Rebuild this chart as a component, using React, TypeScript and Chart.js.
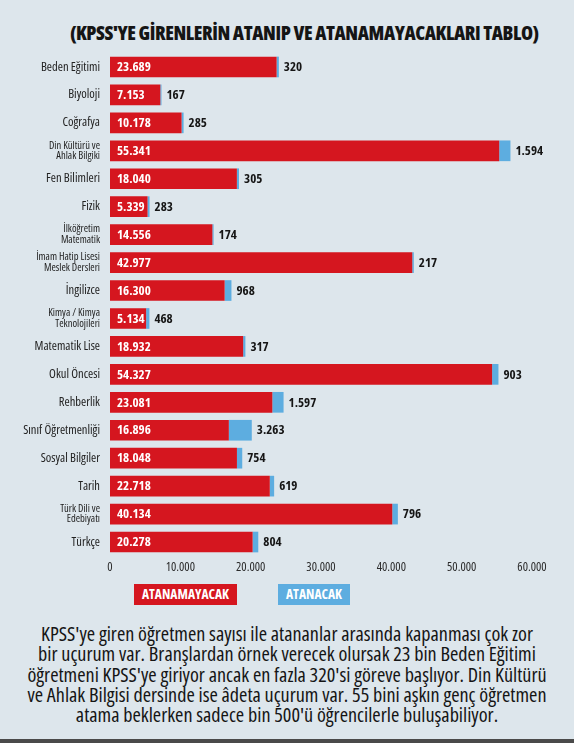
import React, { useEffect, useRef } from "react";
import { Chart, registerables } from "chart.js";

Chart.register(...registerables);

const TITLE = "(KPSS'YE GİRENLERİN ATANIP VE ATANAMAYACAKLARI TABLO)";

const categories: (string | string[])[] = [
  "Beden Eğitimi",
  "Biyoloji",
  "Coğrafya",
  ["Din Kültürü ve", "Ahlak Bilgiki"],
  "Fen Bilimleri",
  "Fizik",
  ["İlköğretim", "Matematik"],
  ["İmam Hatip Lisesi", "Meslek Dersleri"],
  "İngilizce",
  ["Kimya / Kimya", "Teknolojileri"],
  "Matematik Lise",
  "Okul Öncesi",
  "Rehberlik",
  "Sınıf Öğretmenliği",
  "Sosyal Bilgiler",
  "Tarih",
  ["Türk Dili ve", "Edebiyatı"],
  "Türkçe",
];

const atanamayacak = [
  23689, 7153, 10178, 55341, 18040, 5339, 14556, 42977, 16300, 5134, 18932,
  54327, 23081, 16896, 18048, 22718, 40134, 20278,
];

const atanacak = [
  320, 167, 285, 1594, 305, 283, 174, 217, 968, 468, 317, 903, 1597, 3263,
  754, 619, 796, 804,
];

const seriesNames = ["ATANAMAYACAK", "ATANACAK"];
const seriesColors = ["#d5161f", "#5dade0"];

const xTicks = [0, 10000, 20000, 30000, 40000, 50000, 60000];

const FOOTNOTE_LINES = [
  "KPSS'ye giren öğretmen sayısı ile atananlar arasında kapanması çok zor",
  "bir uçurum var. Branşlardan örnek verecek olursak 23 bin Beden Eğitimi",
  "öğretmeni KPSS'ye giriyor ancak en fazla 320'si göreve başlıyor. Din Kültürü",
  "ve Ahlak Bilgisi dersinde ise âdeta uçurum var. 55 bini aşkın genç öğretmen",
  "atama beklerken sadece bin 500'ü öğrencilerle buluşabiliyor.",
];

const FAM = '"Open Sans", sans-serif';

const fmt = (v: number) =>
  String(Math.round(v)).replace(/\B(?=(\d{3})+(?!\d))/g, ".");

const valueLabels = {
  id: "valueLabels",
  afterDatasetsDraw(chart: any) {
    const ctx = chart.ctx;
    const m0 = chart.getDatasetMeta(0);
    const m1 = chart.getDatasetMeta(1);
    ctx.save();
    ctx.textBaseline = "middle";
    ctx.textAlign = "left";
    ctx.font = `bold condensed 13px ${FAM}`;
    m0.data.forEach((el: any, i: number) => {
      ctx.fillStyle = "#ffffff";
      ctx.fillText(fmt(atanamayacak[i]), el.base + 7, el.y + 0.5);
      const b = m1.data[i];
      ctx.fillStyle = "#151515";
      ctx.fillText(fmt(atanacak[i]), b.x + 5, b.y + 0.5);
    });
    ctx.restore();
  },
};

function App() {
  const ref = useRef<HTMLCanvasElement | null>(null);

  useEffect(() => {
    if (!ref.current) return;
    const chart = new Chart(ref.current, {
      type: "bar",
      data: {
        labels: categories,
        datasets: [
          {
            label: seriesNames[0],
            data: atanamayacak,
            backgroundColor: seriesColors[0],
            borderWidth: 0,
            categoryPercentage: 1,
            barPercentage: 0.74,
          },
          {
            label: seriesNames[1],
            data: atanacak,
            backgroundColor: seriesColors[1],
            borderWidth: 0,
            categoryPercentage: 1,
            barPercentage: 0.74,
          },
        ],
      },
      options: {
        indexAxis: "y",
        animation: false,
        responsive: true,
        maintainAspectRatio: false,
        layout: { padding: { top: 53, right: 42, bottom: 8, left: 0 } },
        plugins: {
          legend: { display: false },
          tooltip: { enabled: false },
          title: { display: false },
        },
        scales: {
          x: {
            stacked: true,
            min: 0,
            max: 60000,
            afterBuildTicks: (s: any) => {
              s.ticks = xTicks.map((v) => ({ value: v }));
            },
            grid: { display: false, drawTicks: false },
            border: { display: false },
            ticks: {
              color: "#2a2a2a",
              font: { family: FAM, size: 12.5, weight: "condensed" },
              padding: 4,
              callback: (v: any) => fmt(Number(v)),
            },
          },
          y: {
            stacked: true,
            grid: { display: false, drawTicks: false },
            border: { display: false },
            afterFit: (s: any) => {
              s.width = 110;
            },
            ticks: {
              color: "#222222",
              padding: 10,
              autoSkip: false,
              font: (c: any) => {
                const lab = categories[c.index];
                return {
                  family: FAM,
                  weight: "condensed",
                  size: Array.isArray(lab) ? 10.5 : 12.5,
                  lineHeight: Array.isArray(lab) ? 0.98 : 1.2,
                };
              },
            },
          },
        },
      },
      plugins: [valueLabels],
    });
    return () => chart.destroy();
  }, []);

  const boxStyle = {
    position: "absolute" as const,
    top: 584,
    height: 21,
    color: "#fff",
    fontWeight: "bold" as const,
    fontSize: 13.5,
    fontStretch: "condensed",
    lineHeight: "21px",
    textAlign: "center" as const,
  };

  return (
    <div
      style={{
        position: "fixed",
        left: 0,
        top: 0,
        width: 574,
        height: 743,
        background: "#dde6ec",
        overflow: "hidden",
        fontFamily: FAM,
      }}
    >
      <div
        style={{
          position: "absolute",
          left: 70,
          top: 21,
          fontSize: 19.5,
          fontWeight: 800,
          fontStretch: "condensed",
          lineHeight: "24px",
          letterSpacing: -0.4,
          whiteSpace: "nowrap",
          color: "#151515",
        }}
      >
        {TITLE}
      </div>
      <div style={{ position: "absolute", left: 0, top: 0, width: 574, height: 587 }}>
        <canvas ref={ref} />
      </div>
      <div style={{ ...boxStyle, left: 134, width: 103, background: seriesColors[0] }}>
        {seriesNames[0]}
      </div>
      <div style={{ ...boxStyle, left: 278, width: 72, background: seriesColors[1] }}>
        {seriesNames[1]}
      </div>
      <div
        style={{
          position: "absolute",
          left: 0,
          top: 623,
          width: 574,
          textAlign: "center",
          fontSize: 20.2,
          fontStretch: "condensed",
          lineHeight: "20.3px",
          color: "#151515",
        }}
      >
        {FOOTNOTE_LINES.map((l, i) => (
          <div key={i} style={{ whiteSpace: "nowrap" }}>
            {l}
          </div>
        ))}
      </div>
      <div
        style={{
          position: "absolute",
          left: 0,
          top: 739,
          width: 574,
          height: 4,
          background: "#4a4a4a",
        }}
      />
    </div>
  );
}

export default App;
